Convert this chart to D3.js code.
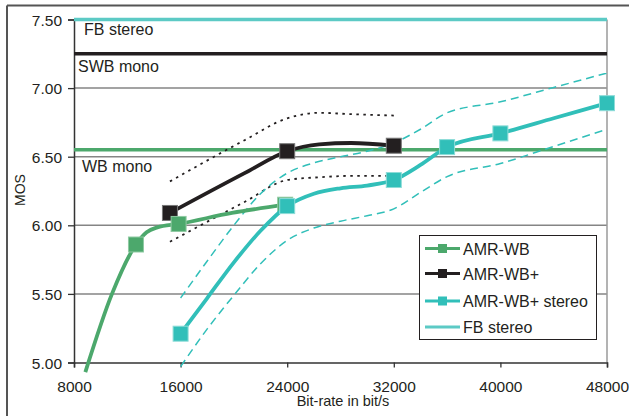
<!DOCTYPE html>
<html>
<head>
<meta charset="utf-8">
<script src="https://cdn.jsdelivr.net/npm/d3@7/dist/d3.min.js"></script>
<style>
  html, body { margin: 0; padding: 0; background: #fff; }
  svg { display: block; font-family: "Liberation Sans", Arial, sans-serif; }
</style>
</head>
<body>
<svg id="chart" width="629" height="416"></svg>
<script>
// Axis ticks
const xTicks = [8000, 16000, 24000, 32000, 40000, 48000];
const yTicks = [5.0, 5.5, 6.0, 6.5, 7.0, 7.5];

// Reference quality levels (MOS)
const refNames = ["FB stereo", "SWB mono", "WB mono"];
const refMos = [7.50, 7.25, 6.55];

// AMR-WB (mono)
const wbRates = [8850, 10850, 12650, 13450, 14250, 15850, 19850, 23850];
const wbMos = [4.93, 5.50, 5.86, 5.95, 5.985, 6.01, 6.09, 6.15];
const wbMarked = [12650, 15850, 23850];

// AMR-WB+ (mono) with confidence bounds
const wbpRates = [15200, 20800, 24000, 26400, 28800, 32000];
const wbpMos = [6.09, 6.38, 6.54, 6.59, 6.60, 6.58];
const wbpUpper = [6.32, 6.62, 6.78, 6.82, 6.81, 6.80];
const wbpLower = [5.88, 6.17, 6.33, 6.35, 6.36, 6.36];
const wbpMarked = [15200, 24000, 32000];

// AMR-WB+ stereo with confidence bounds
const stRates = [16000, 18000, 20000, 22000, 24000, 26000, 28000, 30000, 32000, 34000, 36000, 40000, 44000, 48000];
const stMos = [5.21, 5.47, 5.73, 5.96, 6.14, 6.23, 6.27, 6.29, 6.33, 6.44, 6.57, 6.67, 6.78, 6.89];
const stUpper = [5.47, 5.74, 6.00, 6.23, 6.38, 6.455, 6.50, 6.54, 6.60, 6.70, 6.82, 6.90, 7.005, 7.11];
const stLower = [4.97, 5.245, 5.49, 5.72, 5.89, 5.98, 6.03, 6.07, 6.12, 6.24, 6.355, 6.45, 6.575, 6.70];
const stMarked = [16000, 24000, 32000, 36000, 40000, 48000];

// Legend entries
const legendNames = ["AMR-WB", "AMR-WB+", "AMR-WB+ stereo", "FB stereo"];

const GREEN = "#4ca86c", BLACK = "#231f20", CYAN = "#31bfb9", CYAN_LIGHT = "#5ccac5";
const refColors = [CYAN_LIGHT, BLACK, GREEN];

const svg = d3.select("#chart");
const x = d3.scaleLinear().domain([8000, 48000]).range([74, 607]);
const y = d3.scaleLinear().domain([5.0, 7.5]).range([362.5, 19.5]);

// outer frame (top and left rules)
svg.append("line").attr("x1", 7).attr("x2", 629).attr("y1", 5.5).attr("y2", 5.5)
  .attr("stroke", "#555").attr("stroke-width", 2);
svg.append("line").attr("x1", 7).attr("x2", 7).attr("y1", 5.5).attr("y2", 416)
  .attr("stroke", "#555").attr("stroke-width", 2);

// horizontal grid
svg.append("g").selectAll("line").data(yTicks.filter(t => t > 5 && t < 7.5)).join("line")
  .attr("x1", x(8000)).attr("x2", x(48000))
  .attr("y1", d => y(d)).attr("y2", d => y(d))
  .attr("stroke", "#858585").attr("stroke-width", 1.5);

// right plot edge
svg.append("line").attr("x1", x(48000)).attr("x2", x(48000)).attr("y1", y(7.5)).attr("y2", y(5))
  .attr("stroke", "#9a9a9a").attr("stroke-width", 1.5);

// axes
const xAxis = svg.append("g").attr("transform", `translate(0,${y(5)})`)
  .call(d3.axisBottom(x).tickValues(xTicks).tickFormat(d3.format("d")).tickSize(5).tickPadding(13));
const yAxis = svg.append("g").attr("transform", `translate(${x(8000)},0)`)
  .call(d3.axisLeft(y).tickValues(yTicks).tickFormat(d3.format(".2f")).tickSize(6).tickPadding(6));
[xAxis, yAxis].forEach(g => {
  g.select(".domain").attr("stroke", "#333").attr("stroke-width", 1.5);
  g.selectAll(".tick line").attr("stroke", "#333").attr("stroke-width", 1.3);
  g.selectAll("text").attr("fill", "#231f20").style("font-size", "15.5px")
    .style("font-family", "'Liberation Sans', Arial, sans-serif");
});
yAxis.selectAll("text").attr("dy", "0.36em");

// axis titles
svg.append("text").attr("x", 343).attr("y", 406).attr("text-anchor", "middle")
  .style("font-size", "14.5px").attr("fill", "#231f20").text("Bit-rate in bit/s");
svg.append("text").attr("transform", "translate(25,190) rotate(-90)").attr("text-anchor", "middle")
  .style("font-size", "14px").attr("fill", "#231f20").text("MOS");

// reference levels
svg.append("g").selectAll("line").data(refMos).join("line")
  .attr("x1", x(8000)).attr("x2", x(48000))
  .attr("y1", d => y(d)).attr("y2", d => y(d))
  .attr("stroke", (d, i) => refColors[i]).attr("stroke-width", 3.5);
const refLabelPos = [[84, 35], [78, 72], [82, 172]];
svg.append("g").selectAll("text").data(refNames).join("text")
  .attr("x", (d, i) => refLabelPos[i][0]).attr("y", (d, i) => refLabelPos[i][1])
  .style("font-size", "16px").attr("fill", "#231f20").text(d => d);

const line = d3.line().x(d => x(d[0])).y(d => y(d[1])).curve(d3.curveMonotoneX);
const zip = (a, b) => a.map((v, i) => [v, b[i]]);

// confidence bounds
[[wbpRates, wbpUpper], [wbpRates, wbpLower]].forEach(([r, m]) => {
  svg.append("path").attr("d", line(zip(r, m))).attr("fill", "none")
    .attr("stroke", BLACK).attr("stroke-width", 1.8).attr("stroke-dasharray", "2.5,4.5");
});
[[stRates, stUpper], [stRates, stLower]].forEach(([r, m]) => {
  svg.append("path").attr("d", line(zip(r, m))).attr("fill", "none")
    .attr("stroke", CYAN).attr("stroke-width", 1.5).attr("stroke-dasharray", "8,5");
});

// series with square markers
function series(rates, mos, marked, color, edge) {
  const pts = zip(rates, mos);
  svg.append("path").attr("d", line(pts)).attr("fill", "none")
    .attr("stroke", color).attr("stroke-width", 3.8).attr("stroke-linejoin", "round");
  const s = 15;
  svg.append("g").selectAll("rect").data(pts.filter(p => marked.includes(p[0]))).join("rect")
    .attr("x", d => x(d[0]) - s / 2).attr("y", d => y(d[1]) - s / 2)
    .attr("width", s).attr("height", s)
    .attr("fill", color).attr("stroke", edge).attr("stroke-width", 1);
}
series(wbpRates, wbpMos, wbpMarked, BLACK, "#777");
series(wbRates, wbMos, wbMarked, GREEN, "#8fcaa2");
series(stRates, stMos, stMarked, CYAN, "#8ddcd8");

// legend
const lg = svg.append("g");
lg.append("rect").attr("x", 419.5).attr("y", 235.5).attr("width", 177).attr("height", 104)
  .attr("fill", "#fff").attr("stroke", "#231f20").attr("stroke-width", 1);
const legendColors = [GREEN, BLACK, CYAN, CYAN_LIGHT];
const legendY = [248.5, 273.5, 301, 327];
legendNames.forEach((name, i) => {
  const cy = legendY[i];
  lg.append("line").attr("x1", 425).attr("x2", 460).attr("y1", cy).attr("y2", cy)
    .attr("stroke", legendColors[i]).attr("stroke-width", 3);
  if (i < 3) {
    lg.append("rect").attr("x", 438).attr("y", cy - 4.5).attr("width", 9).attr("height", 9)
      .attr("fill", legendColors[i]);
  }
  lg.append("text").attr("x", 463).attr("y", cy + 6).style("font-size", "16px")
    .attr("fill", "#231f20").text(name);
});
</script>
</body>
</html>
